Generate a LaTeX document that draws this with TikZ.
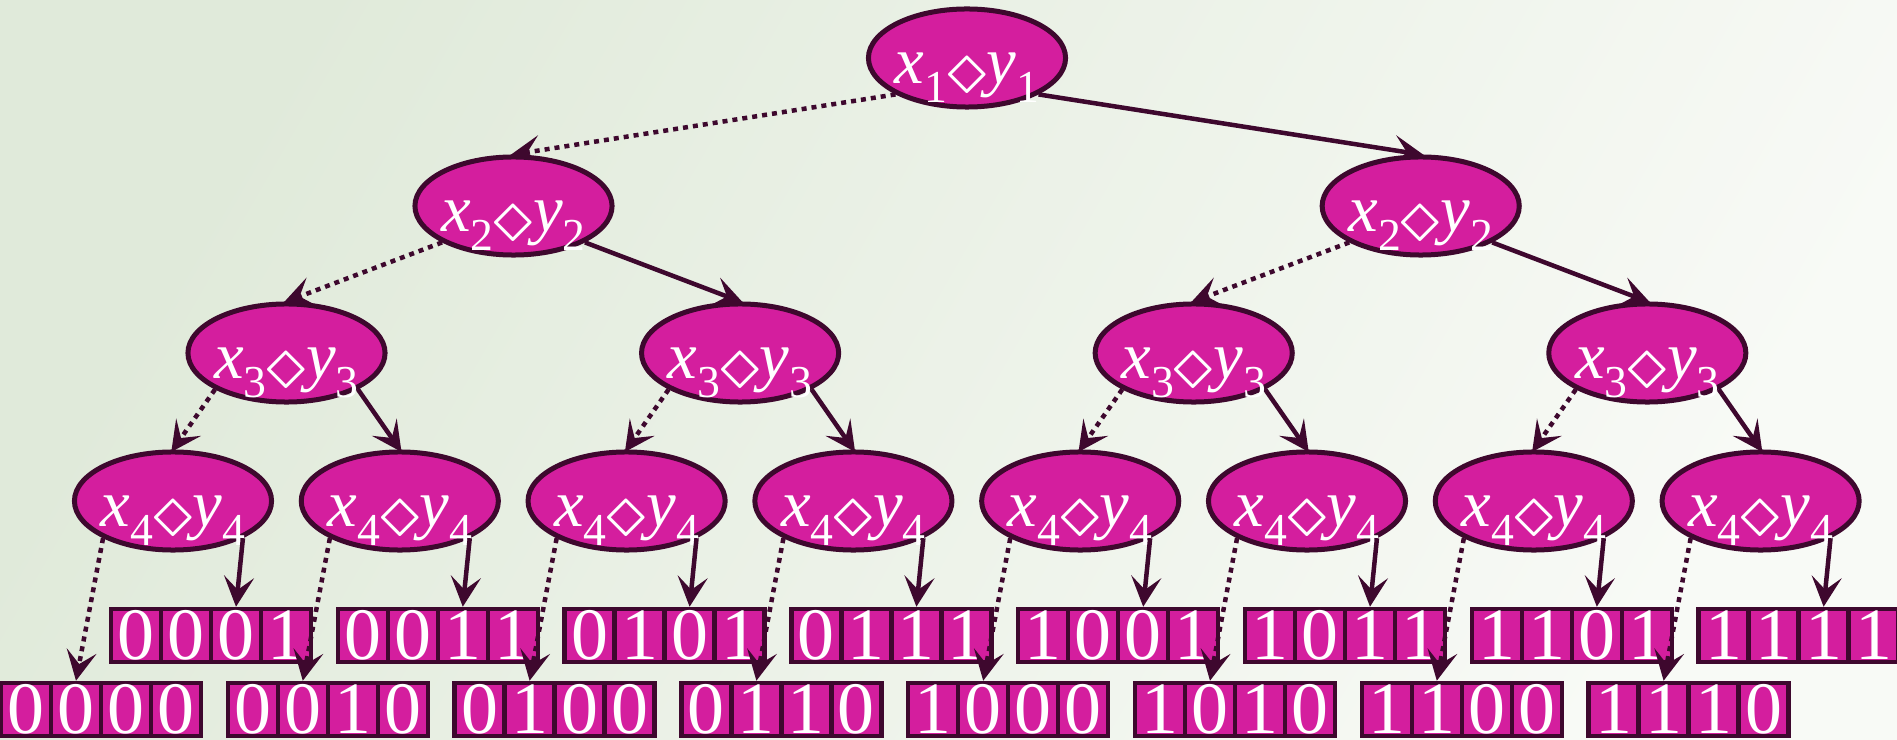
\documentclass[tikz,border=0pt]{standalone}
\usepackage{graphicx}
\usepackage{fontspec}
\setmainfont{Liberation Serif}
\usetikzlibrary{arrows.meta,backgrounds,shapes.geometric}

\definecolor{nodepink}{HTML}{D41E9E}
\definecolor{darkplum}{HTML}{3E082E}
\definecolor{bgtop}{HTML}{E0EADA}
\definecolor{bgbot}{HTML}{F8FAF6}

% x_i <> y_i label of a comparator node
\newcommand{\xdy}[1]{\makebox[1.2cm]{\textit{x}\raisebox{-0.19cm}{\fontsize{13}{13}\selectfont #1}\raisebox{-0.115cm}{\scalebox{1.3}{$\diamond$}}\textit{y}\raisebox{-0.19cm}{\fontsize{13}{13}\selectfont #1}}}

\tikzset{
  cmp/.style={ellipse, draw=darkplum, fill=nodepink, line width=0.05cm,
    minimum width=1.97cm, minimum height=0.98cm, inner sep=0pt, text=white,
    text height=0.5cm, text depth=0pt, font=\fontsize{19}{19}\selectfont},
  bit/.style={rectangle, draw=darkplum, fill=nodepink, line width=0.045cm,
    minimum width=0.5cm, minimum height=0.53cm, inner sep=0pt, text=white,
    text height=0.5cm, text depth=0.03cm, font=\fontsize{21}{21}\selectfont},
  yes/.style={draw=darkplum, line width=0.045cm, -{Stealth[length=0.3cm,width=0.3cm,inset=0.13cm]}},
  no/.style={yes, dash pattern=on 0.05cm off 0.05cm}
}

\begin{document}
\begin{tikzpicture}[x=0.01cm,y=-0.01cm]
\useasboundingbox (0,0) rectangle (1897,740);

% comparator tree
\node[cmp] (r) at (967,58) {\xdy1};
\foreach \i in {0,1} \node[cmp] (b\i) at ({513.5+907.2*\i},206) {\xdy2};
\foreach \i in {0,...,3} \node[cmp] (c\i) at ({286.5+453.6*\i},353) {\xdy3};
\foreach \i in {0,...,7} \node[cmp] (d\i) at ({173+226.8*\i},501) {\xdy4};

% outcome words, odd ones on the upper row
\foreach \i in {0,...,7}
  \foreach \k in {0,...,3} {
    \pgfmathtruncatemacro\hi{mod(floor((2*\i+1)/2^(3-\k)),2)}
    \pgfmathtruncatemacro\lo{mod(floor((2*\i)/2^(3-\k)),2)}
    \node[bit] (o\i\k) at ({136+226.8*\i+50*\k},635.5) {\hi};
    \node[bit] (e\i\k) at ({26+226.8*\i+50*\k},709.5) {\lo};
  }

\foreach \i in {0,...,7} {
  \draw[yes] (d\i.-28) -- (o\i2.north);
  \draw[no] (d\i.-152) -- (e\i1.north);
}

\begin{scope}[on background layer]
\shade[top color=bgtop, bottom color=bgbot, shading angle=60] (0,0) rectangle (1897,740);
\foreach \p/\l/\q in {r/b0/b1, b0/c0/c1, b1/c2/c3, c0/d0/d1, c1/d2/d3, c2/d4/d5, c3/d6/d7} {
  \draw[no, shorten >=-0.03cm] (\p.-153) -- (\l.north);
  \draw[yes, shorten >=-0.03cm] (\p.-27) -- (\q.north);
}
\end{scope}
\end{tikzpicture}
\end{document}
